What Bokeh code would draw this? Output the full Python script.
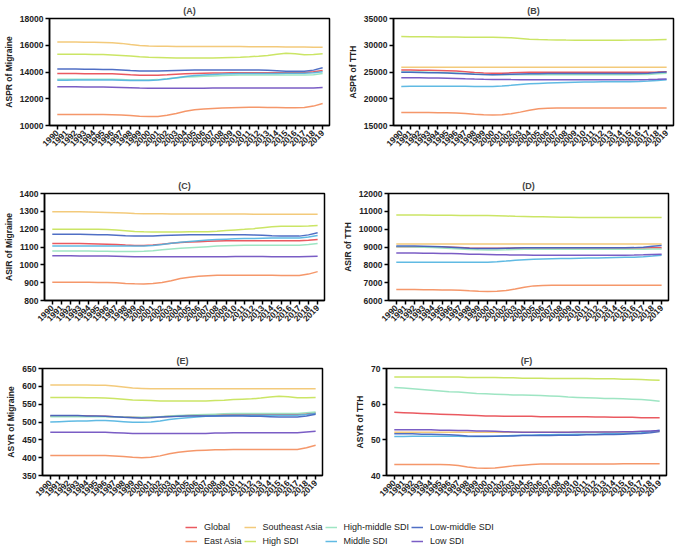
from bokeh.plotting import figure
from bokeh.layouts import column, row
from bokeh.models import FixedTicker, Legend, LegendItem, Range1d
from bokeh.embed import file_html
from bokeh.resources import INLINE
import math

years = list(range(1990, 2020))

series_names = ["Global", "East Asia", "Southeast Asia", "High SDI",
                "High-middle SDI", "Middle SDI", "Low-middle SDI", "Low SDI"]
series_colors = ["#e8474f", "#f48c5a", "#f2c46d", "#c5e254",
                 "#94e2bd", "#4fb3e0", "#3d5fbf", "#6b4bbf"]

# (A) ASPR of Migraine
global_A = [13880,13880,13880,13875,13870,13870,13860,13830,13790,13760,13750,13760,13790,13830,13860,13880,13900,13920,13930,13940,13950,13950,13950,13950,13950,13950,13950,13960,14020,14120]
east_A = [10820,10820,10820,10820,10820,10820,10810,10790,10750,10700,10670,10680,10760,10900,11060,11180,11240,11280,11310,11330,11350,11360,11360,11350,11340,11330,11330,11340,11450,11650]
se_A = [16250,16250,16240,16230,16220,16210,16190,16140,16060,15990,15950,15930,15920,15910,15900,15900,15900,15900,15900,15900,15900,15890,15890,15880,15880,15870,15870,15860,15850,15850]
high_A = [15330,15330,15330,15320,15310,15300,15280,15240,15190,15140,15110,15090,15070,15050,15040,15040,15040,15050,15070,15090,15110,15140,15180,15240,15320,15400,15370,15290,15300,15360]
hm_A = [13460,13460,13460,13460,13460,13460,13450,13430,13410,13400,13400,13430,13490,13560,13620,13650,13680,13710,13740,13760,13780,13780,13780,13780,13780,13780,13780,13770,13800,13880]
mid_A = [13380,13390,13400,13400,13400,13400,13400,13390,13370,13360,13360,13400,13480,13570,13660,13730,13780,13820,13850,13870,13880,13890,13890,13890,13890,13900,13900,13910,13950,14020]
lm_A = [14220,14220,14220,14210,14200,14190,14180,14150,14110,14080,14070,14080,14100,14120,14140,14150,14150,14150,14150,14150,14150,14150,14150,14130,14090,14050,14050,14060,14140,14320]
low_A = [12890,12890,12890,12880,12880,12870,12860,12840,12820,12800,12790,12790,12790,12790,12790,12790,12790,12800,12800,12800,12800,12810,12810,12800,12800,12800,12800,12800,12810,12840]

# (B) ASPR of TTH
global_B = [25380,25370,25350,25320,25280,25230,25170,25050,24900,24800,24750,24780,24840,24900,24930,24940,24940,24940,24940,24940,24940,24940,24930,24930,24930,24930,24940,24960,25000,25060]
east_B = [17440,17440,17430,17420,17400,17370,17330,17250,17120,17000,16940,17000,17200,17500,17850,18130,18230,18250,18250,18250,18250,18250,18250,18250,18250,18250,18250,18250,18250,18250]
se_B = [25870,25870,25870,25870,25870,25870,25870,25870,25870,25870,25870,25870,25870,25870,25870,25870,25870,25870,25870,25870,25870,25870,25870,25870,25870,25870,25870,25870,25870,25870]
high_B = [31620,31610,31590,31570,31550,31530,31520,31510,31500,31500,31500,31460,31380,31260,31140,31060,31010,30980,30960,30950,30940,30940,30940,30940,30950,30960,30980,31000,31030,31060]
hm_B = [25000,24990,24980,24950,24910,24860,24800,24710,24610,24540,24500,24490,24490,24500,24500,24500,24500,24500,24500,24500,24500,24500,24500,24500,24500,24500,24510,24550,24650,24750]
mid_B = [22310,22320,22330,22340,22350,22350,22350,22330,22310,22300,22310,22380,22510,22660,22790,22870,22930,22980,23030,23080,23120,23150,23170,23180,23190,23200,23230,23300,23420,23560]
lm_B = [24940,24930,24910,24880,24840,24790,24730,24650,24570,24520,24500,24520,24580,24640,24680,24690,24700,24700,24700,24700,24700,24700,24700,24700,24700,24700,24720,24780,24890,25000]
low_B = [23940,23930,23920,23900,23870,23830,23780,23720,23670,23640,23620,23600,23580,23570,23560,23560,23560,23560,23560,23560,23560,23560,23560,23560,23560,23560,23570,23600,23640,23690]

# (C) ASIR of Migraine
global_C = [1120,1120,1120,1119,1118,1117,1116,1114,1111,1109,1109,1111,1116,1121,1125,1128,1130,1132,1134,1135,1135,1135,1135,1135,1135,1135,1135,1135,1138,1142]
east_C = [902,902,902,902,902,901,901,899,896,894,893,895,901,911,923,931,936,939,941,942,942,942,942,941,941,940,940,940,948,962]
se_C = [1298,1298,1297,1297,1296,1295,1294,1292,1290,1288,1287,1286,1286,1285,1285,1285,1285,1285,1285,1285,1285,1285,1284,1284,1284,1284,1284,1283,1283,1283]
high_C = [1200,1200,1200,1200,1199,1199,1198,1195,1191,1187,1185,1184,1184,1184,1184,1185,1185,1186,1188,1192,1196,1199,1203,1208,1213,1216,1217,1217,1218,1220]
hm_C = [1078,1078,1078,1077,1077,1076,1076,1075,1075,1075,1076,1079,1084,1089,1093,1096,1099,1102,1105,1107,1109,1110,1110,1110,1110,1110,1110,1110,1114,1120]
mid_C = [1105,1105,1106,1106,1106,1106,1106,1105,1105,1105,1105,1108,1114,1121,1127,1131,1135,1139,1142,1144,1146,1147,1148,1149,1150,1150,1150,1151,1156,1164]
lm_C = [1172,1172,1172,1171,1170,1169,1168,1166,1163,1161,1161,1162,1164,1166,1167,1168,1168,1168,1168,1168,1168,1168,1167,1166,1163,1161,1161,1161,1168,1180]
low_C = [1051,1051,1051,1050,1050,1050,1049,1048,1047,1046,1046,1046,1046,1046,1046,1046,1046,1046,1046,1046,1047,1047,1047,1047,1046,1046,1046,1046,1047,1048]

# (D) ASIR of TTH
global_D = [9020,9020,9020,9015,9010,9000,8990,8970,8950,8935,8930,8930,8935,8940,8945,8950,8950,8950,8950,8950,8950,8950,8950,8950,8950,8950,8950,8950,8955,8960]
east_D = [6610,6610,6610,6605,6600,6595,6590,6570,6540,6520,6510,6520,6560,6640,6740,6820,6840,6850,6850,6850,6850,6850,6850,6850,6850,6850,6850,6850,6850,6850]
se_D = [9170,9170,9170,9170,9170,9170,9170,9170,9170,9170,9170,9170,9170,9170,9170,9170,9170,9170,9170,9170,9170,9170,9170,9170,9170,9170,9170,9170,9170,9170]
high_D = [10800,10800,10795,10790,10785,10780,10775,10770,10765,10760,10760,10750,10735,10720,10710,10700,10690,10680,10670,10665,10660,10660,10660,10660,10660,10660,10660,10660,10660,10660]
hm_D = [9020,9010,9000,8990,8970,8950,8920,8890,8860,8840,8830,8830,8840,8860,8870,8880,8880,8880,8880,8880,8880,8880,8880,8880,8880,8880,8880,8880,8885,8890]
mid_D = [8150,8150,8150,8150,8150,8150,8150,8150,8150,8150,8150,8170,8210,8260,8290,8310,8330,8340,8350,8360,8370,8380,8390,8400,8410,8420,8430,8450,8490,8540]
lm_D = [9055,9055,9050,9040,9030,9010,8990,8960,8930,8915,8910,8915,8930,8945,8955,8960,8960,8960,8960,8960,8960,8960,8960,8960,8960,8960,8965,8990,9040,9090]
low_D = [8670,8665,8660,8655,8650,8640,8630,8615,8600,8590,8580,8570,8560,8550,8545,8540,8540,8540,8540,8540,8540,8540,8540,8540,8540,8540,8545,8560,8580,8600]

# (E) ASYR of Migraine
global_E = [517,517,517,517,517,516,516,515,514,513,512,513,514,516,517,518,519,520,520,521,521,522,522,522,522,522,522,522,523,525]
east_E = [406,406,406,406,406,406,406,405,403,401,400,401,405,411,415,418,420,421,422,422,423,423,423,423,423,423,423,423,428,435]
se_E = [604,604,604,604,604,603,603,601,598,595,594,593,593,593,593,593,593,593,593,593,593,593,593,593,593,593,593,593,593,593]
high_E = [569,569,569,569,568,568,567,566,564,562,561,560,559,559,559,559,559,559,560,561,563,564,565,567,570,572,571,568,568,569]
hm_E = [515,515,515,515,515,515,515,514,514,513,513,514,515,517,518,519,520,521,522,523,524,524,524,524,524,524,524,524,526,528]
mid_E = [500,501,502,503,503,504,504,503,501,499,499,500,503,507,510,512,514,516,517,518,519,519,519,519,519,519,519,519,521,524]
lm_E = [518,518,518,518,517,517,516,515,513,512,511,512,514,515,516,517,517,517,517,517,517,517,516,516,515,514,514,514,517,522]
low_E = [471,471,471,471,471,471,471,470,469,468,468,468,468,468,468,468,468,468,469,469,470,470,470,470,470,470,470,470,472,474]

# (F) ASYR of TTH
global_F = [57.7,57.6,57.5,57.4,57.3,57.2,57.1,57.0,56.9,56.8,56.7,56.7,56.6,56.6,56.6,56.6,56.5,56.5,56.5,56.5,56.5,56.5,56.4,56.4,56.3,56.3,56.3,56.2,56.2,56.2]
east_F = [43.1,43.1,43.1,43.1,43.1,43.1,43.0,42.8,42.4,42.1,42.0,42.1,42.4,42.7,42.9,43.1,43.2,43.2,43.2,43.2,43.2,43.2,43.2,43.2,43.2,43.3,43.3,43.3,43.3,43.3]
se_F = [52.1,52.1,52.1,52.1,52.1,52.1,52.1,52.1,52.1,52.1,52.1,52.1,52.1,52.1,52.1,52.1,52.1,52.1,52.1,52.1,52.1,52.1,52.1,52.2,52.2,52.2,52.2,52.3,52.3,52.4]
high_F = [67.6,67.6,67.6,67.6,67.6,67.6,67.6,67.6,67.5,67.5,67.5,67.5,67.4,67.4,67.3,67.3,67.3,67.2,67.2,67.2,67.2,67.2,67.1,67.1,67.1,67.0,67.0,66.9,66.8,66.7]
hm_F = [64.7,64.5,64.3,64.1,63.9,63.7,63.5,63.4,63.2,63.0,62.9,62.8,62.7,62.6,62.6,62.5,62.4,62.3,62.2,62.0,61.9,61.8,61.7,61.6,61.6,61.5,61.4,61.3,61.1,60.8]
mid_F = [50.9,50.9,51.0,51.0,51.0,51.0,51.0,51.0,50.9,50.9,50.9,51.0,51.1,51.2,51.3,51.3,51.4,51.4,51.5,51.5,51.6,51.6,51.6,51.7,51.7,51.8,51.9,52.0,52.3,52.7]
lm_F = [51.7,51.7,51.7,51.6,51.6,51.5,51.4,51.3,51.1,51.0,51.0,51.0,51.1,51.1,51.2,51.2,51.2,51.2,51.3,51.3,51.3,51.4,51.4,51.5,51.5,51.6,51.7,51.8,52.0,52.3]
low_F = [52.8,52.8,52.8,52.8,52.8,52.7,52.7,52.6,52.6,52.5,52.5,52.4,52.3,52.2,52.1,52.1,52.1,52.1,52.1,52.1,52.2,52.2,52.2,52.2,52.2,52.3,52.3,52.4,52.5,52.6]

FONT = "Liberation Sans"


def make_panel(title, ylabel, y0, y1, ystep, data, left_col, top, bottom):
    p = figure(frame_width=280, frame_height=107, output_backend="svg", toolbar_location=None,
               x_range=Range1d(1989.15, 2019.75), y_range=Range1d(y0, y1),
               title=title,
               min_border_left=42 if left_col else 56,
               min_border_right=8 if left_col else 3,
               min_border_top=top, min_border_bottom=bottom)
    p.title.align = "center"
    p.title.text_font = FONT
    p.title.text_font_size = "9px"
    p.title.text_font_style = "bold"
    p.title.standoff = 6
    p.title.offset = 0
    p.grid.visible = False
    p.outline_line_color = "black"
    p.outline_line_width = 1.5
    p.outline_line_alpha = 1.0
    p.background_fill_color = "white"

    p.xaxis.ticker = FixedTicker(ticks=years)
    p.xaxis.major_label_orientation = math.pi / 4
    p.yaxis.ticker = FixedTicker(ticks=[v for v in range(y0, y1 + 1, ystep)])
    for ax in (p.xaxis[0], p.yaxis[0]):
        ax.axis_line_color = "black"
        ax.axis_line_width = 1.5
        ax.major_tick_line_color = "black"
        ax.major_tick_line_width = 1.5
        ax.major_tick_out = 4
        ax.major_tick_in = 0
        ax.minor_tick_line_color = None
        ax.major_label_text_font = FONT
        ax.major_label_text_font_size = "8.5px"
        ax.major_label_text_font_style = "bold"
        ax.major_label_text_color = "#222222"
        ax.major_label_standoff = 2
    p.yaxis.axis_label = ylabel
    p.yaxis.axis_label_text_font = FONT
    p.yaxis.axis_label_text_font_size = "8.5px"
    p.yaxis.axis_label_text_font_style = "bold"
    p.yaxis.axis_label_text_color = "#222222"
    p.yaxis.axis_label_standoff = 3

    for vals, col in zip(data, series_colors):
        p.line(years, vals, line_color=col, line_width=1.5, line_alpha=0.9)
    return p


pA = make_panel("(A)", "ASPR of Migraine", 10000, 18000, 2000,
                [global_A, east_A, se_A, high_A, hm_A, mid_A, lm_A, low_A], True, 14, 50)
pB = make_panel("(B)", "ASPR of TTH", 15000, 35000, 5000,
                [global_B, east_B, se_B, high_B, hm_B, mid_B, lm_B, low_B], False, 14, 50)
pC = make_panel("(C)", "ASIR of Migraine", 800, 1400, 100,
                [global_C, east_C, se_C, high_C, hm_C, mid_C, lm_C, low_C], True, 14, 50)
pD = make_panel("(D)", "ASIR of TTH", 6000, 12000, 1000,
                [global_D, east_D, se_D, high_D, hm_D, mid_D, lm_D, low_D], False, 14, 50)
pE = make_panel("(E)", "ASYR of Migraine", 350, 650, 50,
                [global_E, east_E, se_E, high_E, hm_E, mid_E, lm_E, low_E], True, 14, 46)
pF = make_panel("(F)", "ASYR of TTH", 40, 70, 10,
                [global_F, east_F, se_F, high_F, hm_F, mid_F, lm_F, low_F], False, 14, 46)

# Legend panel: lines from the panel (A) data, clipped out of the empty frame
pL = figure(width=669, height=26, output_backend="svg", toolbar_location=None,
            x_range=Range1d(0, 1), y_range=Range1d(0, 1),
            x_axis_location=None, y_axis_location=None,
            min_border=0)
pL.grid.visible = False
pL.outline_line_color = None
items = []
for name, col, vals in zip(series_names, series_colors,
                           [global_A, east_A, se_A, high_A, hm_A, mid_A, lm_A, low_A]):
    r = pL.line(years, vals, line_color=col, line_width=1.5, line_alpha=0.9)
    items.append(LegendItem(label=name, renderers=[r]))
leg = Legend(items=items, location=(185, 0), orientation="vertical", nrows=2)
leg.border_line_color = None
leg.background_fill_alpha = 0
leg.padding = 0
leg.margin = 0
leg.spacing = 2
leg.glyph_width = 12
leg.glyph_height = 12
leg.label_height = 12
leg.label_standoff = 7
leg.label_text_font = FONT
leg.label_text_font_size = "9px"
leg.label_text_color = "#222222"
pL.add_layout(leg, "center")

layout = column(row(pA, pB), row(pC, pD), row(pE, pF), pL, spacing=0)

open("out.html", "w").write(file_html(layout, INLINE))
